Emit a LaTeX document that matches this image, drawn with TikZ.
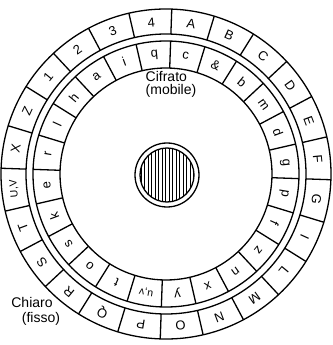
\documentclass[tikz,border=0pt]{standalone}
\usepackage{fontspec}
\setmainfont{Liberation Sans}
\usetikzlibrary{calc}

\tikzset{
  ring/.style={line width=1.3pt},
  letter/.style={font=\fontsize{13}{13}\selectfont,inner sep=0pt},
  pair/.style={font=\fontsize{10.5}{10.5}\selectfont,inner sep=0pt},
  caption/.style={font=\fontsize{14}{13}\selectfont,inner sep=0pt,align=left},
}

\begin{document}
\begin{tikzpicture}[x=1pt,y=1pt]
  \useasboundingbox (-166,-171) rectangle (166,174);
  % the two rings
  \draw[ring] (0,0) circle[radius=165] (0,0) circle[radius=140];
  \draw[ring] (0,0) circle[radius=133] (0,0) circle[radius=106];
  \foreach \k in {0,...,23} {
    \pgfmathsetmacro{\a}{88-15*\k}
    \draw[ring] (\a:140) -- (\a:165);
    \draw[ring] (\a:106) -- (\a:133);
  }
  % fixed letters
  \foreach [count=\i from 0] \lab in {A,B,C,D,E,F,G,I,L,M,N,O,P,Q,R,S,T,X,Z,1,2,3,4} {
    \pgfmathsetmacro{\a}{80.5-15*(\i<17 ? \i : \i+1)}
    \node[letter,rotate=\a-90] (out\i) at (\a:152.5) {\lab};
  }
  \node[pair,rotate=-265] (outuv) at (-174.5:152.5) {U,V};
  % moving letters
  \foreach [count=\i from 0] \lab in {c,\&,b,m,d,g,p,f,z,n,x,y,t,o,s,k,e,r,l,h,a,i,q} {
    \pgfmathsetmacro{\a}{80.5-15*(\i<12 ? \i : \i+1)}
    \node[letter,rotate=\a-90] (in\i) at (\a:119.5) {\lab};
  }
  \node[pair,rotate=-190] (inuv) at (-99.5:119.5) {u,v};
  % hub
  \draw[ring] (1,-1) circle[radius=32];
  \begin{scope}
    \clip (1,-1) circle[radius=27];
    \foreach \x in {-26,-22.5,...,27}
      \draw[line width=0.8pt] ({1+\x},-30) -- ({1+\x},28);
  \end{scope}
  \draw[ring] (1,-1) circle[radius=27];
  % captions
  \node[caption] (cifrato) at (5,89.5) {Cifrato\\(mobile)};
  \node[caption] (chiaro) at (-134,-128) {Chiaro};
  \node[caption] (fisso) at (-125,-145) {(fisso)};
\end{tikzpicture}
\end{document}
